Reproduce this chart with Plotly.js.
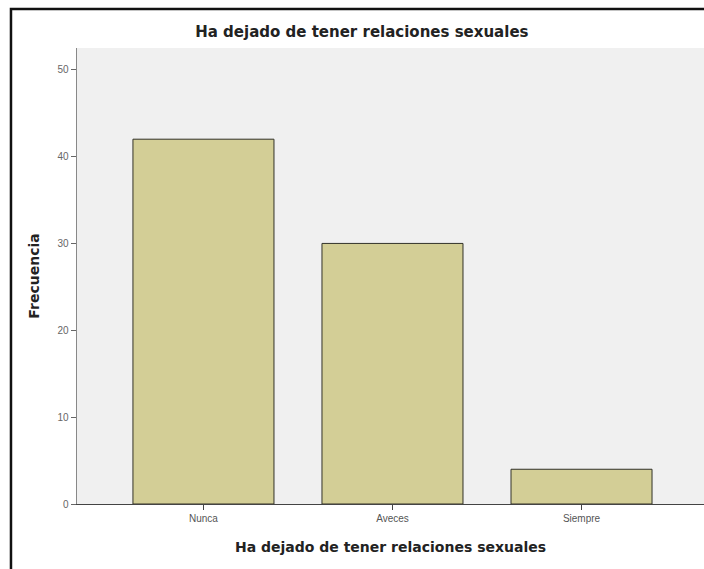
<!DOCTYPE html>
<html>
<head>
<meta charset="utf-8">
<script src="https://cdn.plot.ly/plotly-3.0.1.min.js"></script>
<style>
  html, body { margin: 0; padding: 0; background: #fff; }
</style>
</head>
<body>
<div id="chart" style="width:704px;height:569px;"></div>
<script>
var categorias = ["Nunca", "Aveces", "Siempre"];
var frecuencia = [42, 30, 4];
var yTicks = [0, 10, 20, 30, 40, 50];

var titulo = "Ha dejado de tener relaciones sexuales";

var barras = {
    type: 'bar',
    x: categorias,
    y: frecuencia,
    width: 0.746,
    marker: {
        color: 'rgb(211,206,150)',
        line: { color: 'rgb(50,50,40)', width: 1 }
    },
    hoverinfo: 'x+y'
};

var layout = {
    width: 704,
    height: 569,
    margin: { l: 77, r: 0, t: 48, b: 65 },
    paper_bgcolor: '#ffffff',
    plot_bgcolor: '#f0f0f0',
    showlegend: false,
    title: {
        text: titulo,
        font: { family: 'DejaVu Sans', size: 15, weight: 'bold', color: '#222' },
        x: 0.514, xanchor: 'center',
        y: 0.944, yanchor: 'middle'
    },
    xaxis: {
        type: 'category',
        range: [-0.669, 2.648],
        showgrid: false,
        zeroline: false,
        showline: true,
        linecolor: '#444',
        linewidth: 1,
        ticks: 'outside',
        ticklen: 5,
        tickcolor: '#444',
        tickfont: { family: 'Liberation Sans', size: 10, color: '#555' },
        title: {
            text: titulo,
            font: { family: 'DejaVu Sans', size: 14, weight: 'bold', color: '#222' },
            standoff: 19
        }
    },
    yaxis: {
        range: [0, 52.5],
        tickvals: yTicks,
        showgrid: false,
        zeroline: false,
        showline: true,
        mirror: true,
        linecolor: '#888',
        linewidth: 1.5,
        ticks: 'outside',
        ticklen: 5,
        tickcolor: '#666',
        tickfont: { family: 'Liberation Sans', size: 10, color: '#666' },
        title: {
            text: 'Frecuencia',
            font: { family: 'DejaVu Sans', size: 14, weight: 'bold', color: '#222' },
            standoff: 14
        }
    },
    shapes: [{
        type: 'rect',
        xref: 'paper', yref: 'paper',
        x0: -0.1053, x1: 1.02,
        y0: -0.2, y1: 1.0855,
        line: { color: '#111', width: 2.5 },
        fillcolor: 'rgba(0,0,0,0)',
        layer: 'below'
    }]
};

Plotly.newPlot('chart', [barras], layout, { displayModeBar: false, staticPlot: true });
</script>
</body>
</html>
